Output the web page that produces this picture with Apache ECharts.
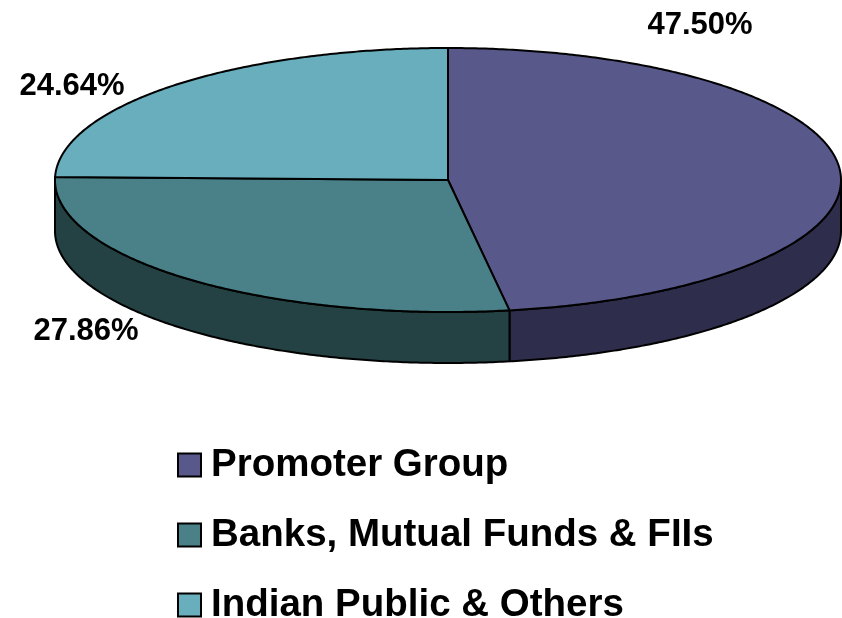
<!DOCTYPE html>
<html>
<head>
<meta charset="utf-8">
<script src="https://cdn.jsdelivr.net/npm/echarts@6/dist/echarts.min.js"></script>
<style>
  html, body { margin: 0; padding: 0; background: #fff; }
  #chart { width: 842px; height: 618px; }
</style>
</head>
<body>
<div id="chart"></div>
<script>
const names = ['Promoter Group', 'Banks, Mutual Funds & FIIs', 'Indian Public & Others'];
const shares = [47.50, 27.86, 24.64];
const topColors = ['#58588A', '#4A8188', '#68AEBC'];
const sideColors = ['#2E2E4C', '#244244', '#3B6670'];

// pie geometry (ellipse, tilted disc)
const CX = 448, CY = 180, RX = 393, RY = 132, DEPTH = 51;
// label anchors, in same order as names
const labelAt = [[700, 25], [86, 331], [72, 86]];

const total = shares.reduce((a, b) => a + b, 0);

function pt(t, dy) {
  const r = t * Math.PI / 180;
  return [CX + RX * Math.cos(r), CY - RY * Math.sin(r) + (dy || 0)];
}

function arc(a, b, dy) {
  const pts = [];
  const n = Math.max(2, Math.ceil(Math.abs(b - a) * 2));
  for (let k = 0; k <= n; k++) pts.push(pt(a + (b - a) * k / n, dy));
  return pts;
}

function renderSlice(params, api) {
  const i = params.seriesIndex;
  const before = shares.slice(0, i).reduce((a, b) => a + b, 0);
  const t0 = 90 - 360 * before / total;
  const t1 = t0 - 360 * api.value(0) / total;
  const children = [];
  // visible side wall is the front half of the disc (angles -180..0)
  const a = Math.min(t0, 0), b = Math.max(t1, -180);
  if (a > b) {
    const upper = arc(a, b, 0);
    const lower = arc(b, a, DEPTH);
    children.push({
      type: 'polygon',
      z2: 1,
      shape: { points: upper.concat(lower) },
      style: { fill: sideColors[i], stroke: '#000', lineWidth: 2, lineJoin: 'round' }
    });
  }
  children.push({
    type: 'polygon',
    z2: 5,
    shape: { points: [[CX, CY]].concat(arc(t0, t1, 0)) },
    style: { fill: topColors[i], stroke: '#000', lineWidth: 2, lineJoin: 'round' }
  });
  children.push({
    type: 'text',
    z2: 10,
    x: labelAt[i][0],
    y: labelAt[i][1],
    style: {
      text: api.value(0).toFixed(2) + '%',
      font: 'bold 31px "Liberation Sans", Arial, sans-serif',
      fill: '#000',
      align: 'center',
      verticalAlign: 'middle'
    }
  });
  return { type: 'group', children };
}

const chart = echarts.init(document.getElementById('chart'));
chart.setOption({
  animation: false,
  backgroundColor: '#fff',
  legend: {
    data: names,
    orient: 'vertical',
    left: 177,
    top: 445,
    height: 200,
    padding: 0,
    icon: 'rect',
    itemWidth: 23,
    itemHeight: 23,
    itemGap: 30,
    selectedMode: false,
    itemStyle: { borderColor: '#000', borderWidth: 2 },
    textStyle: {
      fontFamily: '"Liberation Sans", Arial, sans-serif',
      fontSize: 38.5,
      fontWeight: 'bold',
      color: '#000',
      lineHeight: 40,
      padding: [0, 0, 0, 5]
    }
  },
  series: names.map((name, i) => ({
    name,
    type: 'custom',
    coordinateSystem: 'none',
    itemStyle: { color: topColors[i] },
    renderItem: renderSlice,
    data: [[shares[i]]]
  }))
});
</script>
</body>
</html>
